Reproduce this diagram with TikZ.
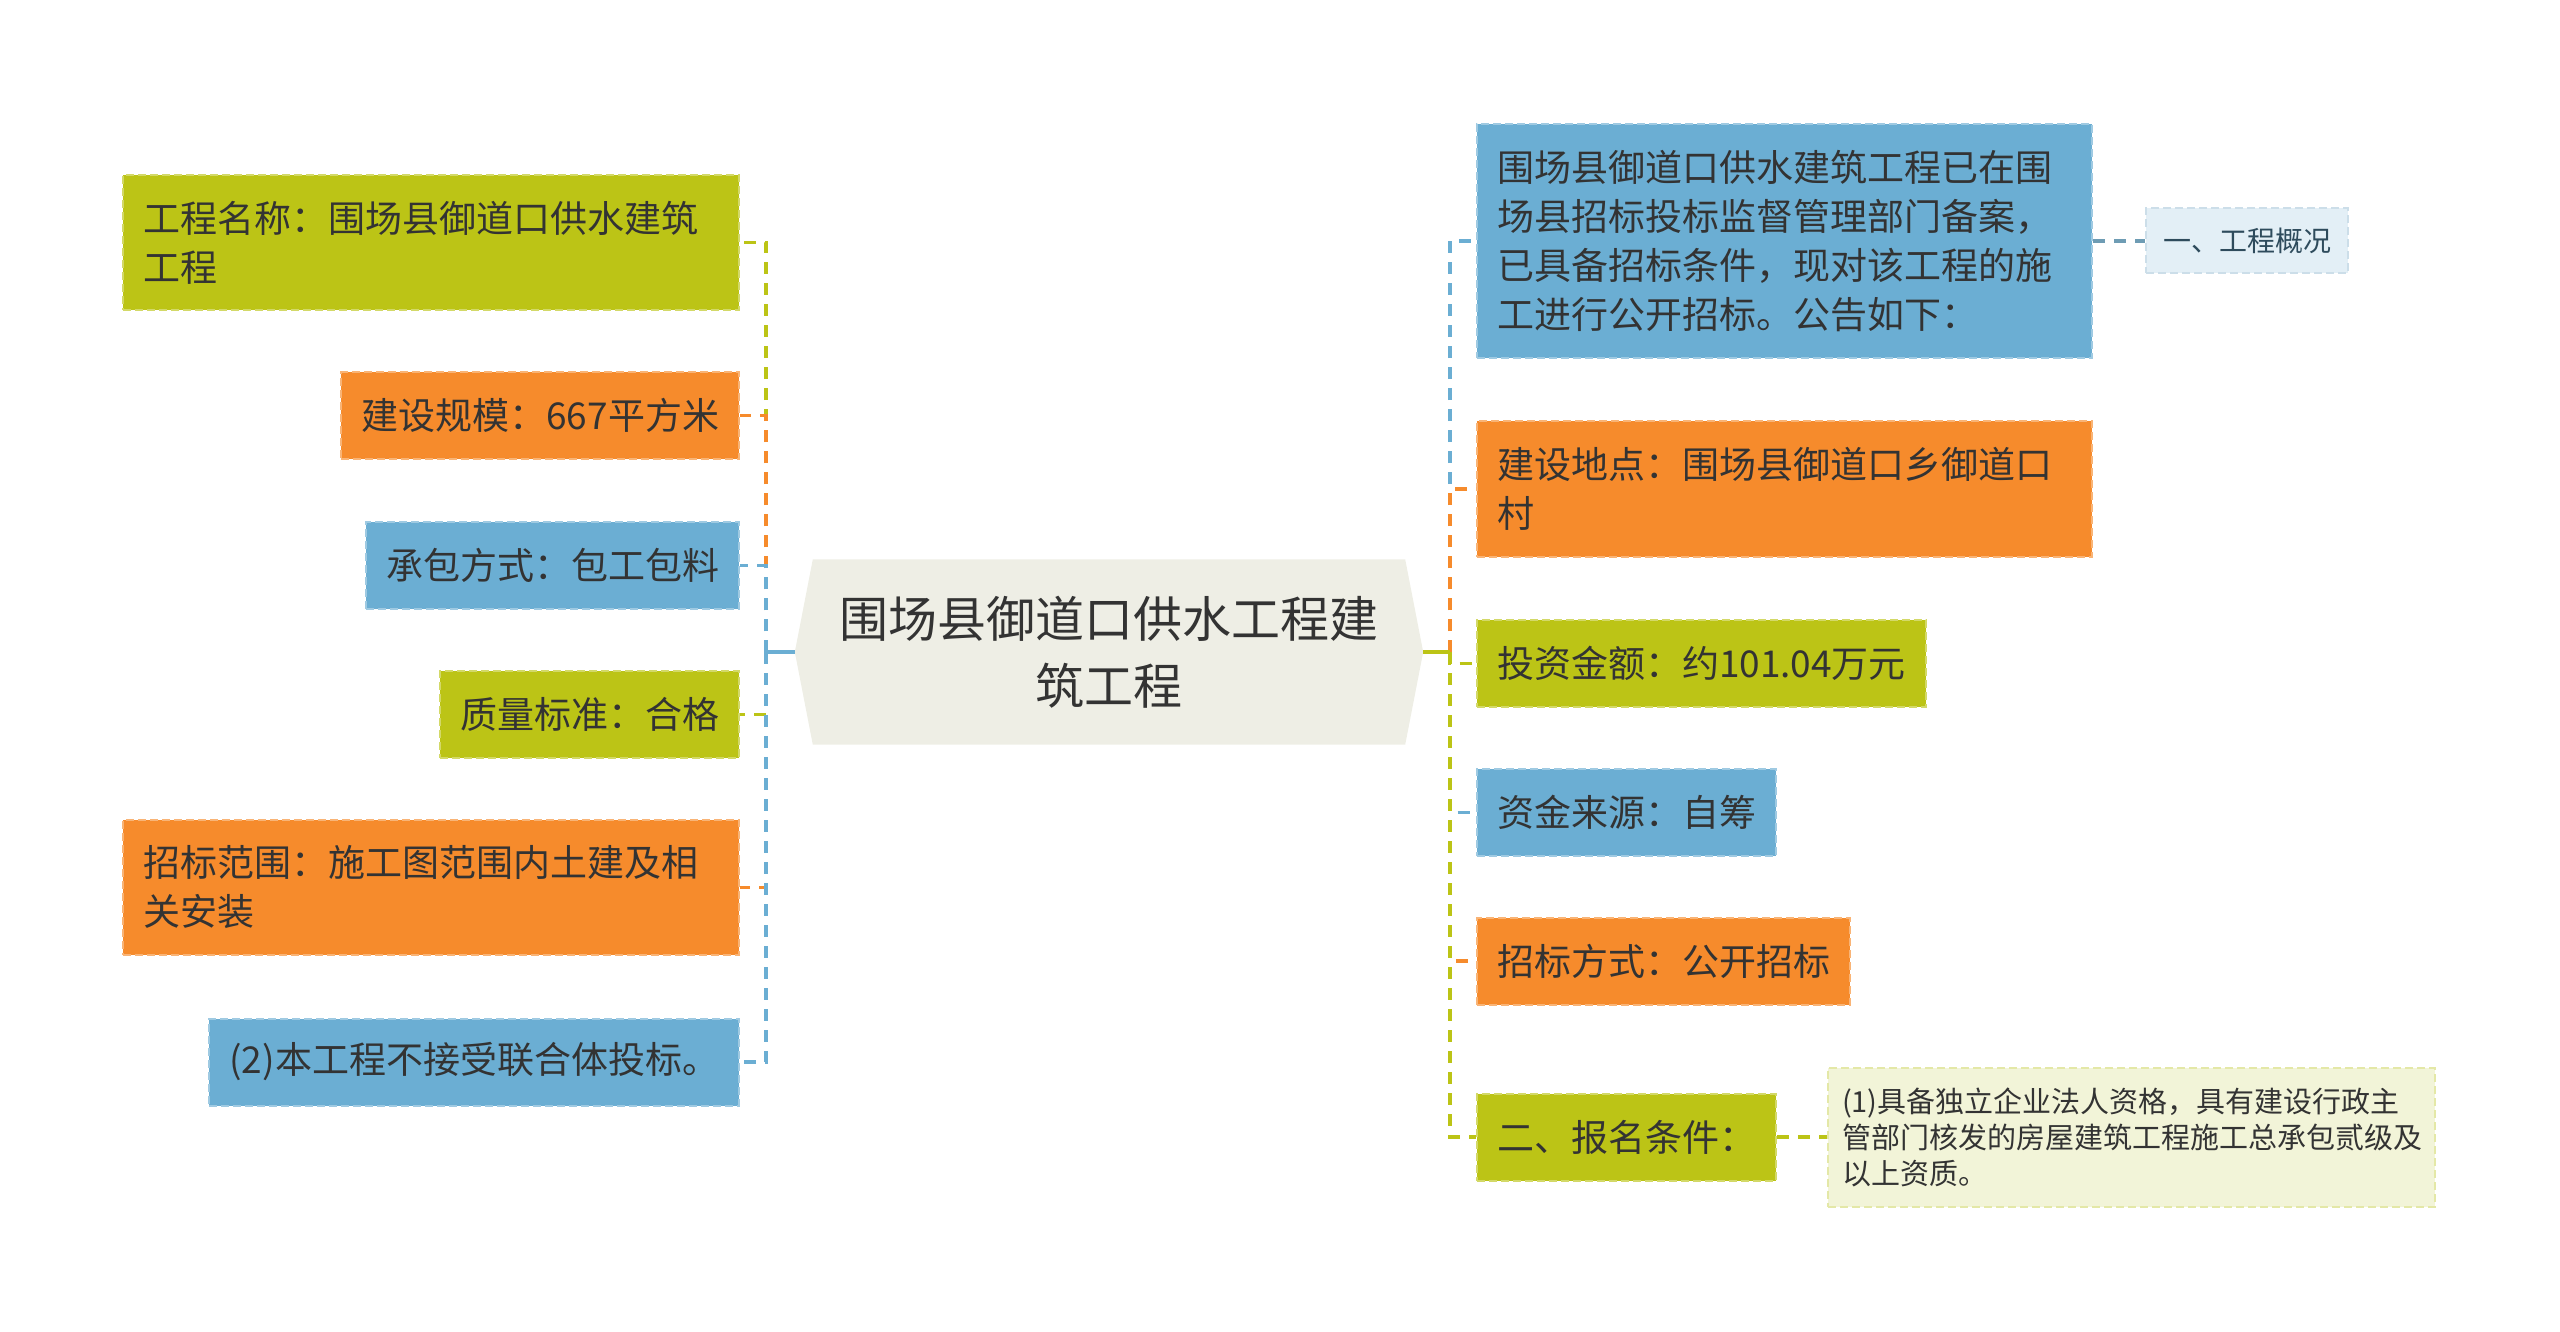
\documentclass[tikz,border=0pt]{standalone}
\usepackage{fontspec}
\setmainfont{Noto Sans CJK SC}
\usepackage{tikz}
\usetikzlibrary{positioning,backgrounds}
\definecolor{boxolive}{HTML}{BCC416}
\definecolor{boxorange}{HTML}{F68B2C}
\definecolor{boxblue}{HTML}{6BAED3}
\definecolor{rootfill}{HTML}{EEEEE5}
\definecolor{tagblue}{HTML}{E3EFF6}
\definecolor{tagtext}{HTML}{2E4B5C}
\definecolor{tagline}{HTML}{6E9CB4}
\definecolor{tagcream}{HTML}{F2F4D8}
\definecolor{textdark}{HTML}{333333}

\begin{document}
\begin{tikzpicture}[x=1pt,y=-1pt,
  box/.style={fill=#1, draw=#1!65!white, line width=2pt, dash pattern=on 8pt off 4pt,
    inner xsep=20pt, inner ysep=0pt, minimum height=87pt, text=textdark,
    font=\fontsize{37}{49}\selectfont, align=left},
  link/.style={draw=#1, line width=3.5pt, dash pattern=on 12pt off 9pt},
  stub/.style={draw=#1, line width=3.5pt}]
\useasboundingbox (0,0) rectangle (2560,1332);

\node[font=\fontsize{49}{67}\selectfont, text=textdark, align=center,
  minimum width=628pt, minimum height=185pt] (root) at (1109,652) {围场县御道口供水工程建\\筑工程};
\begin{scope}[on background layer]
\fill[rootfill] ([xshift=18pt]root.north west) -- ([xshift=-18pt]root.north east) -- (root.east)
  -- ([xshift=-18pt]root.south east) -- ([xshift=18pt]root.south west) -- (root.west) -- cycle;
\end{scope}

\node[box=boxolive, text width=576pt, minimum height=135pt, anchor=east] (l1) at (740,242.5) {工程名称：围场县御道口供水建筑\\工程};
\node[box=boxorange, anchor=east] (l2) at (740,415.5) {建设规模：667平方米};
\node[box=boxblue, anchor=east] (l3) at (740,565.5) {承包方式：包工包料};
\node[box=boxolive, anchor=east] (l4) at (740,714.5) {质量标准：合格};
\node[box=boxorange, text width=576pt, minimum height=135pt, anchor=east] (l5) at (740,887.5) {招标范围：施工图范围内土建及相\\关安装};
\node[box=boxblue, anchor=east] (l6) at (740,1062) {(2)本工程不接受联合体投标。};

\node[box=boxblue, text width=575pt, minimum height=234pt, anchor=west] (r1) at (1476,241) {围场县御道口供水建筑工程已在围\\场县招标投标监督管理部门备案，\\已具备招标条件，现对该工程的施\\工进行公开招标。公告如下：};
\node[box=boxorange, text width=575pt, minimum height=136pt, anchor=west] (r2) at (1476,489) {建设地点：围场县御道口乡御道口\\村};
\node[box=boxolive, anchor=west] (r3) at (1476,663.5) {投资金额：约101.04万元};
\node[box=boxblue, anchor=west] (r4) at (1476,812.5) {资金来源：自筹};
\node[box=boxorange, anchor=west] (r5) at (1476,961) {招标方式：公开招标};
\node[box=boxolive, anchor=west] (r6) at (1476,1137) {二、报名条件：};

\node[box=tagblue, draw=tagblue!80!tagline, text=tagtext, font=\fontsize{28}{36}\selectfont,
  inner xsep=17pt, minimum height=65pt, anchor=west] (r1a) at (2145,241) {一、工程概况};
\node[box=tagcream, draw=tagcream!75!boxolive, font=\fontsize{29}{36}\selectfont, text width=579pt,
  inner xsep=14pt, minimum height=139pt, anchor=west] (r6a) at (1827,1137) {(1)具备独立企业法人资格，具有建设行政主\\管部门核发的房屋建筑工程施工总承包贰级及\\以上资质。};

\coordinate (lt) at (766,652);
\coordinate (rt) at (1450,652);
\foreach \n/\c in {l1/boxolive,l2/boxorange,l3/boxblue,l4/boxolive,l5/boxorange,l6/boxblue}
  \draw[link=\c] (lt) |- (\n.east);
\foreach \n/\c in {r1/boxblue,r2/boxorange,r3/boxolive,r4/boxblue,r5/boxorange,r6/boxolive}
  \draw[link=\c] (rt) |- (\n.west);
\draw[stub=boxblue] (root.west) -- (lt);
\draw[stub=boxolive] (root.east) -- (rt);
\draw[link=tagline] (r1.east) -- (r1a.west);
\draw[link=boxolive] (r6.east) -- (r6a.west);
\end{tikzpicture}
\end{document}
